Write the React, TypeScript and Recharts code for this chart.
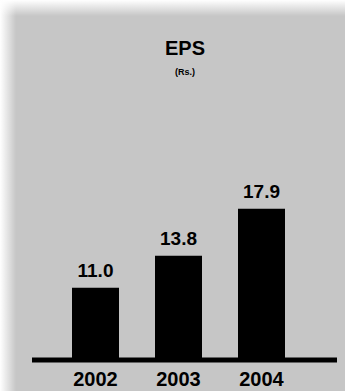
import { BarChart, Bar, XAxis, YAxis, LabelList } from 'recharts';

const years = ['2002', '2003', '2004'];
const eps = [11.0, 13.8, 17.9];
const labels = ['11.0', '13.8', '17.9'];

const yMin = 4.7;
const yMax = 30;

export default function App() {
  const data = years.map((year, i) => ({ year, eps: eps[i], label: labels[i] }));

  return (
    <div
      style={{
        position: 'absolute',
        left: 0,
        top: 0,
        width: 345,
        height: 391,
        backgroundColor: '#c6c6c6',
        backgroundImage:
          'linear-gradient(to bottom, #ffffff 0px, rgba(255,255,255,0) 16px), linear-gradient(to right, #ffffff 0px, rgba(255,255,255,0) 16px)',
        fontFamily: '"Liberation Sans", Arial, sans-serif',
      }}
    >
      <div
        style={{
          position: 'absolute',
          left: 0,
          width: 370,
          top: 38,
          textAlign: 'center',
          fontWeight: 'bold',
          fontSize: 20,
          color: '#000',
          lineHeight: '20px',
        }}
      >
        EPS
      </div>
      <div
        style={{
          position: 'absolute',
          left: 0,
          width: 370,
          top: 66,
          textAlign: 'center',
          fontWeight: 'bold',
          fontSize: 9,
          color: '#000',
          lineHeight: '12px',
        }}
      >
        (Rs.)
      </div>
      <BarChart
        width={345}
        height={391}
        data={data}
        margin={{ top: 70, right: 8, bottom: 1, left: 32 }}
        style={{ position: 'absolute', left: 0, top: 0 }}
      >
        <XAxis
          dataKey="year"
          height={30}
          padding={{ left: 22, right: 34 }}
          axisLine={{ stroke: '#000', strokeWidth: 5 }}
          tickLine={false}
          tickSize={0}
          tickMargin={12}
          tick={{ fill: '#000', fontSize: 20, fontWeight: 'bold' }}
        />
        <YAxis hide domain={[yMin, yMax]} allowDataOverflow />
        <Bar dataKey="eps" fill="#000" barSize={47} isAnimationActive={false}>
          <LabelList
            dataKey="label"
            position="top"
            offset={11}
            style={{ fill: '#000', fontSize: 19, fontWeight: 'bold' }}
          />
        </Bar>
      </BarChart>
    </div>
  );
}
